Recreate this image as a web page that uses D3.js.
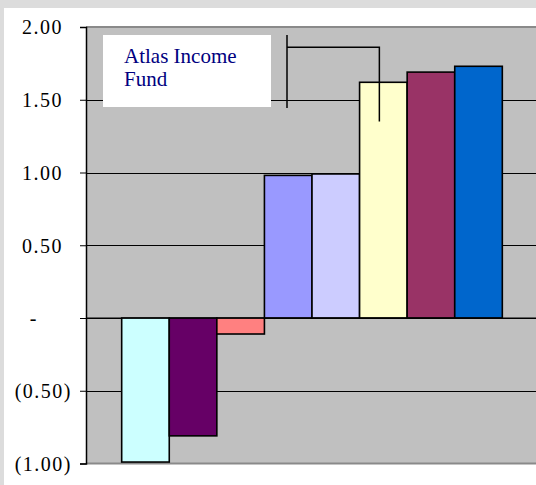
<!DOCTYPE html>
<html>
<head>
<meta charset="utf-8">
<script src="https://cdn.jsdelivr.net/npm/d3@7"></script>
<style>
  html, body { margin: 0; padding: 0; background: #dcdcdc; }
  svg { display: block; }
</style>
</head>
<body>
<div id="chart"></div>
<script>
// chart data
const series = ["s1", "s2", "s3", "s4", "s5", "s6", "s7", "s8"];
const values = [-0.99, -0.81, -0.11, 0.98, 0.99, 1.62, 1.69, 1.73];
const colors = ["#ccffff", "#660066", "#ff8080", "#9999ff", "#ccccff", "#ffffcc", "#993366", "#0066cc"];
const tickValues = [2, 1.5, 1, 0.5, 0, -0.5, -1];
const tickLabels = ["2.00", "1.50", "1.00", "0.50", "-", "(0.50)", "(1.00)"];
const boxText = ["Atlas Income", "Fund"];

const width = 536;
const height = 485;
const plot = { left: 86, top: 27, right: 538, bottom: 463.5 };

const svg = d3.select("#chart").append("svg")
    .attr("width", width)
    .attr("height", height);

// white chart panel
svg.append("rect")
    .attr("x", 4).attr("y", 8)
    .attr("width", width).attr("height", height)
    .attr("fill", "#ffffff");

const x = d3.scaleBand()
    .domain(series)
    .range([plot.left, plot.right])
    .paddingInner(0)
    .paddingOuter(0.75);

const y = d3.scaleLinear()
    .domain([-1, 2])
    .range([plot.bottom, plot.top]);

// plot area
svg.append("rect")
    .attr("x", plot.left).attr("y", plot.top)
    .attr("width", plot.right - plot.left)
    .attr("height", plot.bottom - plot.top)
    .attr("fill", "#c0c0c0");

// gridlines
svg.append("g")
    .selectAll("line")
    .data(tickValues.filter(v => v > -1 && v < 2))
    .enter().append("line")
    .attr("x1", plot.left).attr("x2", plot.right)
    .attr("y1", d => Math.round(y(d)) + 0.5)
    .attr("y2", d => Math.round(y(d)) + 0.5)
    .attr("stroke", "#000")
    .attr("stroke-width", 1);

// top and bottom borders of plot area
svg.append("g")
    .selectAll("line")
    .data([2, -1])
    .enter().append("line")
    .attr("x1", plot.left).attr("x2", plot.right)
    .attr("y1", d => y(d)).attr("y2", d => y(d))
    .attr("stroke", "#8a8a8a")
    .attr("stroke-width", 2);

// bars
svg.append("g")
    .selectAll("rect")
    .data(values)
    .enter().append("rect")
    .attr("x", (d, i) => x(series[i]))
    .attr("width", x.bandwidth())
    .attr("y", d => y(Math.max(0, d)))
    .attr("height", d => Math.abs(y(d) - y(0)))
    .attr("fill", (d, i) => colors[i])
    .attr("stroke", "#000")
    .attr("stroke-width", 1.6);

// zero line on top
svg.append("line")
    .attr("x1", plot.left).attr("x2", plot.right)
    .attr("y1", y(0)).attr("y2", y(0))
    .attr("stroke", "#000")
    .attr("stroke-width", 1);

// y axis
const yAxis = d3.axisLeft(y)
    .tickValues(tickValues)
    .tickSize(6)
    .tickPadding(0)
    .tickFormat((d, i) => tickLabels[i]);

const gAxis = svg.append("g")
    .attr("transform", `translate(${plot.left},0)`)
    .call(yAxis);

gAxis.select(".domain").attr("stroke", "#000").attr("stroke-width", 1.5);
gAxis.selectAll(".tick line").attr("stroke", "#000");
gAxis.selectAll(".tick text")
    .attr("x", -14)
    .attr("dx", (d, i) => {
        const t = tickLabels[i];
        if (t === "-") return -34;
        if (t.startsWith("(")) return 0;
        return -9;
    })
    .attr("dy", "0.34em")
    .attr("fill", "#000")
    .style("font-family", "'Liberation Serif', 'Times New Roman', serif")
    .style("font-size", "20px")
    .style("letter-spacing", "1.5px");

// text box
const box = { x: 103, y: 35, w: 168, h: 72 };
svg.append("rect")
    .attr("x", box.x).attr("y", box.y)
    .attr("width", box.w).attr("height", box.h)
    .attr("fill", "#ffffff");

svg.append("text")
    .attr("x", box.x + 21)
    .attr("y", box.y + 28)
    .attr("fill", "#000080")
    .style("font-family", "'Liberation Serif', 'Times New Roman', serif")
    .style("font-size", "21px")
    .selectAll("tspan")
    .data(boxText)
    .enter().append("tspan")
    .attr("x", box.x + 21)
    .attr("dy", (d, i) => i === 0 ? 0 : 23)
    .text(d => d);

// leader line from box to the sixth bar
const lx1 = box.x + box.w + 16;
const lx2 = x(series[5]) + x.bandwidth() / 2 - 4;
svg.append("path")
    .attr("d", `M${lx1},${box.y} V${box.y + box.h + 1}
                M${lx1},${y(1.86)} H${lx2} V${y(1.35)}`)
    .attr("fill", "none")
    .attr("stroke", "#000")
    .attr("stroke-width", 1.5);
</script>
</body>
</html>
